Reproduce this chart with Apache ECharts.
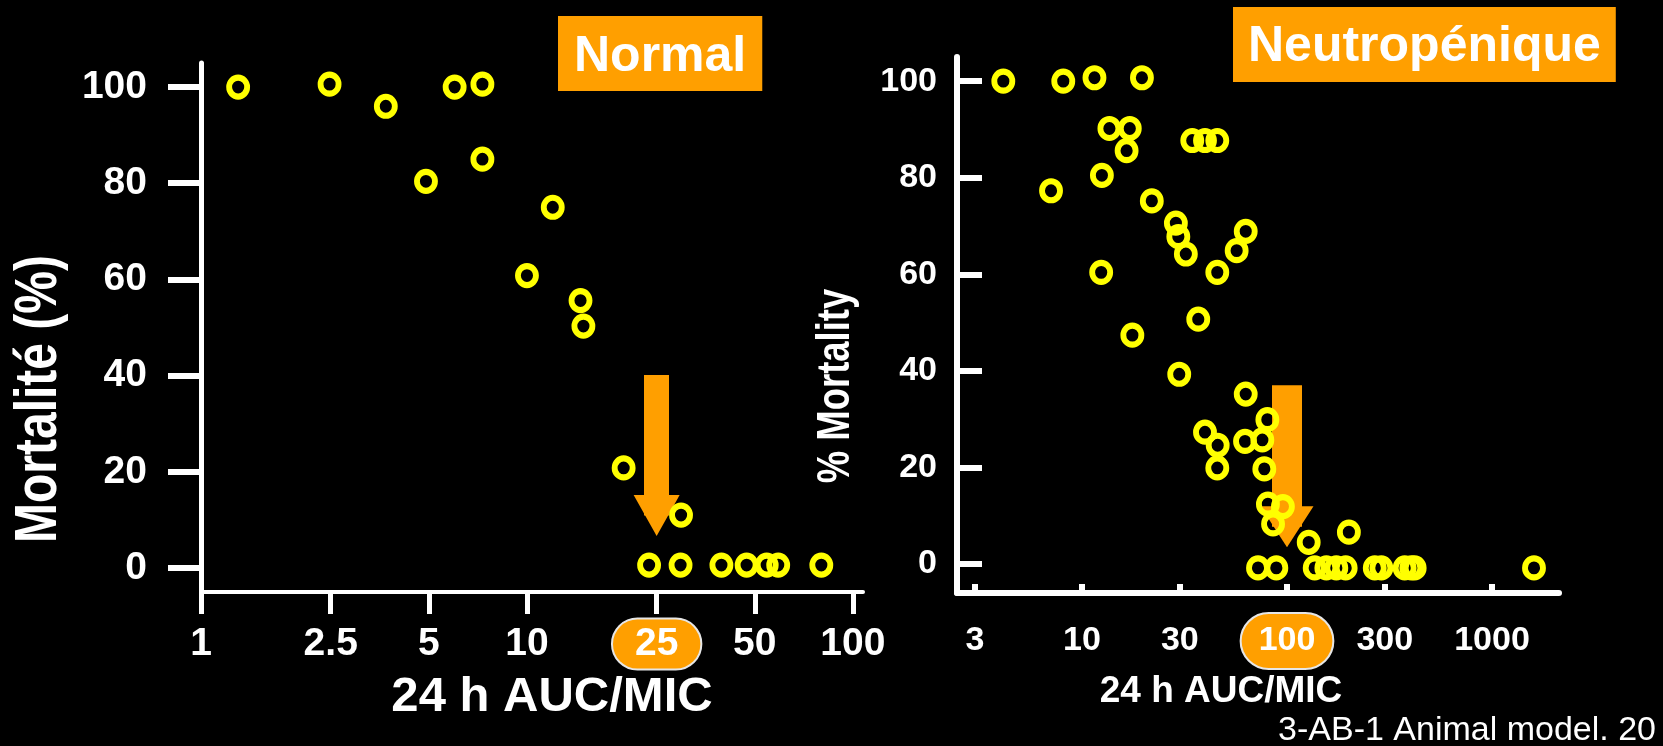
<!DOCTYPE html>
<html>
<head>
<meta charset="utf-8">
<title>Mortalité vs 24 h AUC/MIC</title>
<script src="https://cdn.jsdelivr.net/npm/echarts@6/dist/echarts.min.js"></script>
<style>
  html, body { margin: 0; padding: 0; background: #000; }
  #chart { width: 1663px; height: 746px; }
</style>
</head>
<body>
<div id="chart"></div>
<script>
// souris normales
const normalAuc  = [1.3, 2.48, 3.69, 6.0, 7.3, 7.3, 4.9, 12.0, 10.0, 14.6, 14.9, 19.8, 29.7,
                    23.7, 29.6, 39.5, 47.2, 54.4, 59, 80];
const normalMort = [100, 100.6, 96, 100, 100.6, 85, 80.4, 75, 60.8, 55.6, 50.3, 20.8, 11,
                    0.6, 0.6, 0.6, 0.6, 0.6, 0.6, 0.6];

// souris neutropéniques
const neutroAuc  = [4.13, 8.1, 11.5, 19.6, 13.6, 17.1, 16.5, 12.5, 7.06, 21.9, 34.5, 39.8, 45.7,
                    28.7, 29.5, 32.1, 62.9, 56.8, 45.7, 12.4, 36.9, 17.6,
                    29.8, 62.9, 80.2, 39.8, 45.9, 62.4, 75.8, 45.7, 77.5,
                    80.7, 95.5, 85.5, 127.6, 200.4,
                    72.2, 88.7, 136.5, 155.6, 174, 193.3, 268, 288.6, 375, 404, 419.6, 1603];
const neutroMort = [100, 100, 100.7, 100.7, 90.2, 90.2, 85.6, 80.5, 77.3, 75.2, 87.7, 87.7, 87.7,
                    70.6, 67.8, 64.2, 68.9, 64.9, 60.4, 60.4, 50.7, 47.4,
                    39.3, 35.2, 29.9, 27.3, 24.6, 25.4, 25.7, 19.9, 19.7,
                    12.4, 11.9, 8.3, 4.5, 6.6,
                    -0.8, -0.8, -0.8, -0.8, -0.8, -0.8, -0.8, -0.8, -0.8, -0.8, -0.8, -0.8];

const normalTicks = [1, 2.5, 5, 10, 25, 50, 100];
const neutroTicks = [3, 10, 30, 100, 300, 1000];
const mortTicks = [0, 20, 40, 60, 80, 100];

// seuil mis en évidence + flèche (x, mortalité début, mortalité fin)
const normalTarget = 25;
const neutroTarget = 100;
const normalArrow = [25, 40.1, 10.9];
const neutroArrow = [100, 37, 7.7];

const normalXRange = [1, 107.4];
const neutroXRange = [2.455, 2123];

const FONT = '"Liberation Sans", Arial, sans-serif';
const YELLOW = '#FFFF00';
const ORANGE = '#FF9F00';
const WHITE = '#ffffff';

const chart = echarts.init(document.getElementById('chart'));

function pairs(xs, ys) {
    return xs.map((x, i) => [x, ys[i]]);
}

function tickFormatter(ticks, target) {
    return v => {
        const t = ticks.find(t => Math.abs(Math.log10(t) - v) < 1e-6);
        if (t === undefined) return '';
        return t === target ? '{hl|' + t + '}' : '{n|' + t + '}';
    };
}

function labelRich(size, lh, padV, padH, radius) {
    const base = { color: WHITE, fontSize: size, fontWeight: 'bold', fontFamily: FONT, lineHeight: lh };
    return {
        n: Object.assign({}, base, { padding: [padV, 0, padV, 0] }),
        hl: Object.assign({}, base, {
            padding: [padV, padH, padV, padH],
            backgroundColor: ORANGE,
            borderColor: '#e6e6e6',
            borderWidth: 2,
            borderRadius: radius
        })
    };
}

function ringSeries(data, xIdx, yIdx, arrow, arrowWidth, headSize) {
    return {
        type: 'scatter',
        xAxisIndex: xIdx,
        yAxisIndex: yIdx,
        data: data,
        symbol: 'circle',
        symbolSize: [18, 19],
        itemStyle: { color: 'rgba(0,0,0,0)', borderColor: YELLOW, borderWidth: 6, opacity: 1 },
        emphasis: { disabled: true },
        z: 3,
        markLine: {
            silent: true,
            z: 1,
            symbol: ['none', 'triangle'],
            symbolSize: headSize,
            label: { show: false },
            lineStyle: { color: ORANGE, width: arrowWidth, type: 'solid', opacity: 1 },
            data: [[{ coord: [arrow[0], arrow[1]] }, { coord: [arrow[0], arrow[2]] }]]
        }
    };
}

const titleStyle = { color: WHITE, fontSize: 50, fontWeight: 'bold', fontFamily: FONT, lineHeight: 56 };

const option = {
    backgroundColor: '#000',
    animation: false,
    title: [
        { text: 'Normal', left: 558, top: 16, backgroundColor: ORANGE, padding: [13, 16, 6, 16], textStyle: titleStyle },
        { text: 'Neutropénique', left: 1233, top: 7, backgroundColor: ORANGE, padding: [12, 15, 7, 15], textStyle: titleStyle }
    ],
    grid: [
        { left: 201, top: 63, width: 662, height: 529 },
        { left: 957, top: 57, width: 602, height: 536 }
    ],
    xAxis: [
        { type: 'log', logBase: 10, gridIndex: 0, position: 'bottom', show: false,
          min: normalXRange[0], max: normalXRange[1] },
        { type: 'value', gridIndex: 0, position: 'bottom',
          min: Math.log10(normalXRange[0]), max: Math.log10(normalXRange[1]),
          axisLine: { show: true, onZero: false, lineStyle: { color: WHITE, width: 4 } },
          axisTick: { show: true, inside: false, length: 22, lineStyle: { color: WHITE, width: 5 },
                      customValues: normalTicks.map(Math.log10) },
          axisLabel: { show: true, margin: 32, customValues: normalTicks.map(Math.log10),
                       formatter: tickFormatter(normalTicks, normalTarget),
                       rich: labelRich(39, 40, 5, 22, 25) },
          splitLine: { show: false } },
        { type: 'log', logBase: 10, gridIndex: 1, position: 'bottom', show: false,
          min: neutroXRange[0], max: neutroXRange[1] },
        { type: 'value', gridIndex: 1, position: 'bottom',
          min: Math.log10(neutroXRange[0]), max: Math.log10(neutroXRange[1]),
          axisLine: { show: true, onZero: false, lineStyle: { color: WHITE, width: 6 } },
          axisTick: { show: true, inside: true, length: 9, lineStyle: { color: WHITE, width: 6 },
                      customValues: neutroTicks.map(Math.log10) },
          axisLabel: { show: true, margin: 30, customValues: neutroTicks.map(Math.log10),
                       formatter: tickFormatter(neutroTicks, neutroTarget),
                       rich: labelRich(34, 36, 10, 17, 28) },
          splitLine: { show: false } }
    ],
    yAxis: [
        { type: 'value', gridIndex: 0, position: 'left', min: -5, max: 105,
          axisLine: { show: true, onZero: false, lineStyle: { color: WHITE, width: 5 } },
          axisTick: { show: true, inside: false, length: 33, lineStyle: { color: WHITE, width: 6 },
                      customValues: mortTicks },
          axisLabel: { customValues: mortTicks, margin: 54, color: WHITE, fontSize: 39,
                       fontWeight: 'bold', fontFamily: FONT },
          splitLine: { show: false } },
        { type: 'value', gridIndex: 1, position: 'left', min: -6, max: 105,
          axisLine: { show: true, onZero: false, lineStyle: { color: WHITE, width: 6 } },
          axisTick: { show: true, inside: true, length: 25, lineStyle: { color: WHITE, width: 6 },
                      customValues: mortTicks },
          axisLabel: { customValues: mortTicks, margin: 20, color: WHITE, fontSize: 34,
                       fontWeight: 'bold', fontFamily: FONT, padding: [0, 0, 14, 0] },
          splitLine: { show: false } }
    ],
    series: [
        ringSeries(pairs(normalAuc, normalMort), 0, 0, normalArrow, 25, [46, 41]),
        ringSeries(pairs(neutroAuc, neutroMort), 2, 1, neutroArrow, 30, [53, 41])
    ],
    graphic: [
        { type: 'text', x: 552, y: 697,
          style: { text: '24 h AUC/MIC', fill: WHITE, font: 'bold 49px ' + FONT,
                   align: 'center', verticalAlign: 'middle', textAlign: 'center', textVerticalAlign: 'middle' } },
        { type: 'text', x: 1221, y: 692,
          style: { text: '24 h AUC/MIC', fill: WHITE, font: 'bold 37px ' + FONT,
                   align: 'center', verticalAlign: 'middle', textAlign: 'center', textVerticalAlign: 'middle' } },
        { type: 'text', x: 39, y: 399, rotation: Math.PI / 2, scaleX: 0.8,
          style: { text: 'Mortalité (%)', fill: WHITE, font: 'bold 60px ' + FONT,
                   align: 'center', verticalAlign: 'middle', textAlign: 'center', textVerticalAlign: 'middle' } },
        { type: 'text', x: 836, y: 386, rotation: Math.PI / 2, scaleX: 0.775,
          style: { text: '% Mortality', fill: WHITE, font: 'bold 47px ' + FONT,
                   align: 'center', verticalAlign: 'middle', textAlign: 'center', textVerticalAlign: 'middle' } },
        { type: 'text', x: 1656, y: 731,
          style: { text: '3-AB-1 Animal model. 20', fill: WHITE, font: '34px ' + FONT,
                   align: 'right', verticalAlign: 'middle', textAlign: 'right', textVerticalAlign: 'middle' } }
    ]
};

chart.setOption(option);
</script>
</body>
</html>
